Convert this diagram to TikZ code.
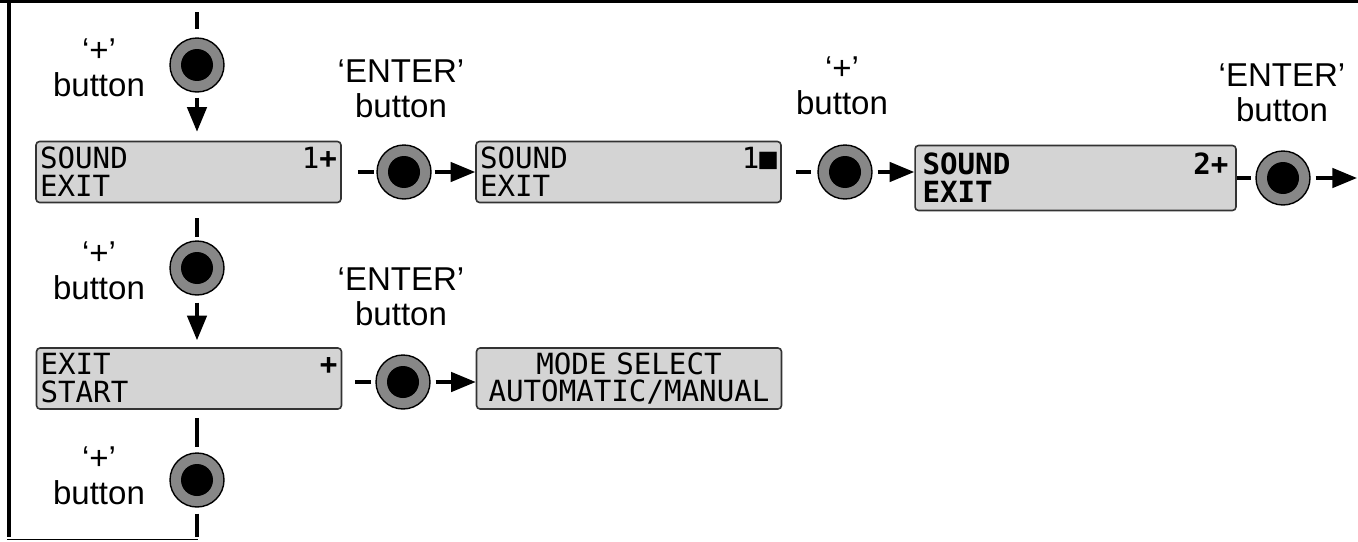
\documentclass[tikz,border=0pt]{standalone}
\usepackage{fontspec}
\setmainfont{Liberation Sans}
\newfontfamily\lcdfont{DejaVu Sans Mono}
\usetikzlibrary{arrows.meta}
\definecolor{lcdgray}{gray}{0.83}
\definecolor{ringgray}{gray}{0.53}

\begin{document}
\begin{tikzpicture}[x=0.02cm,y=-0.02cm,
  lbl/.style={align=center,inner sep=0pt,anchor=south,font=\fontsize{18.8}{19.8}\selectfont},
  lcd/.style={draw=black!80,fill=lcdgray,rounded corners=2pt,line width=0.9pt,
    inner xsep=0.08cm,inner ysep=0pt,minimum height=1.22cm,text width=5.94cm,align=left,
    font=\lcdfont\fontsize{16.6}{15.9}\selectfont},
  pushbtn/.style={circle,draw=black,fill=ringgray,line width=0.8pt,minimum size=1.08cm,inner sep=0pt,
    path picture={\fill[black] (path picture bounding box.center) circle (0.32cm);}},
  stub/.style={line width=2.3pt},
  flow/.style={line width=2pt,-{Triangle[length=14pt,width=11pt]}}]
\useasboundingbox (0,0) rectangle (1358,541);

% frame
\draw[line width=2.2pt] (0,1) -- (1358,1);
\draw[line width=2pt] (9,0) -- (9,537);
\draw[line width=0.9pt] (7,539.5) -- (198,539.5);

% left column
\node[pushbtn] (plus1) at (197,65) {};
\node[lcd] (sound1) at (188.5,172) {SOUND\hfill 1\textbf{+}\\EXIT};
\node[pushbtn] (plus2) at (197,268) {};
\node[lcd] (exitbox) at (189,378.5) {EXIT\hfill\textbf{+}\\START};
\node[pushbtn] (plus3) at (197,480) {};

\node[lbl] (plus1lbl) at (99,97) {‘+’\\button};
\node[lbl] (plus2lbl) at (99,300) {‘+’\\button};
\node[lbl] (plus3lbl) at (99,505) {‘+’\\button};

% first row
\node[pushbtn] (enter1) at (404,172) {};
\node[lcd] (sound2) at (628.5,172) {SOUND\hfill 1■\\EXIT};
\node[pushbtn] (enter2) at (845,172) {};
\node[lcd,text width=6.12cm,inner xsep=0.15cm,minimum height=1.3cm,
  font=\lcdfont\bfseries\fontsize{16.6}{15.9}\selectfont] (sound3) at (1075.5,178) {SOUND\hfill 2+\\EXIT};
\node[pushbtn] (enter3) at (1283,178) {};

\node[lbl] (enter1lbl) at (401,118) {‘ENTER’\\button};
\node[lbl] (plus4lbl) at (842,115) {‘+’\\button};
\node[lbl] (enter3lbl) at (1282,122) {‘ENTER’\\button};

% second row
\node[pushbtn] (enter4) at (403,382) {};
\node[lcd,align=center] (mode) at (629,378.5) {MODE SELECT\\AUTOMATIC/MANUAL};
\node[lbl] (enter4lbl) at (401,326) {‘ENTER’\\button};

% connectors
\coordinate (topend) at (197,12);
\coordinate (botend) at (197,537);
\coordinate (rightend) at (1357,178);

\draw[stub,shorten >=0.16cm] (topend) -- (plus1.north);
\draw[flow,shorten <=0.1cm,shorten >=0.18cm] (plus1) -- (plus1 |- sound1.north);
\draw[stub,shorten <=0.3cm,shorten >=0.06cm] (plus1 |- sound1.south) -- (plus2.north);
\draw[flow,shorten <=0.14cm,shorten >=0.14cm] (plus2) -- (plus2 |- exitbox.north);
\draw[stub,shorten <=0.16cm,shorten >=0.1cm] (plus2 |- exitbox.south) -- (plus3.north);
\draw[stub,shorten <=0.12cm] (plus3.south) -- (botend);

\draw[stub,shorten <=0.32cm,shorten >=0.04cm] (sound1.east) -- (enter1.west);
\draw[flow,shorten <=0.06cm] (enter1) -- (sound2.west);
\draw[stub,shorten <=0.28cm,shorten >=0.12cm] (sound2.east) -- (enter2.west);
\draw[flow,shorten <=0.1cm] (enter2) -- (enter2 -| sound3.west);
\draw[stub,shorten >=0.08cm] (sound3.east) -- (enter3.west);
\draw[flow,shorten <=0.1cm] (enter3) -- (rightend);

\draw[stub,shorten <=0.26cm,shorten >=0.08cm] (exitbox.east |- enter4) -- (enter4.west);
\draw[flow,shorten <=0.1cm] (enter4) -- (enter4 -| mode.west);
\end{tikzpicture}
\end{document}
